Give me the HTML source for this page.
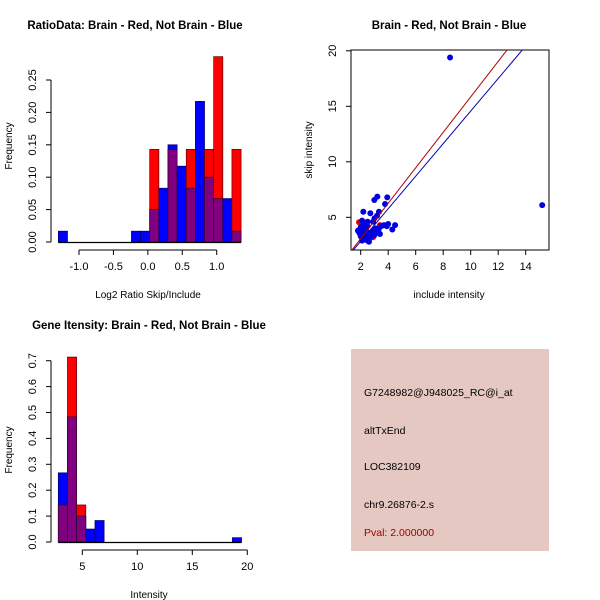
<!DOCTYPE html>
<html><head><meta charset="utf-8"><style>
body{margin:0;background:#fff;}
svg{display:block;font-family:"Liberation Sans",sans-serif;}
</style></head><body>
<svg id="s" width="600" height="600" viewBox="0 0 600 600">
<rect width="600" height="600" fill="#fff"/>
<text x="135" y="29" font-size="11.5" font-weight="bold" text-anchor="middle">RatioData: Brain - Red, Not Brain - Blue</text>
<text x="449" y="29" font-size="11.5" font-weight="bold" text-anchor="middle">Brain - Red, Not Brain - Blue</text>
<text x="149" y="329" font-size="11.5" font-weight="bold" text-anchor="middle">Gene Itensity: Brain - Red, Not Brain - Blue</text>
<text x="148" y="298" font-size="10" text-anchor="middle">Log2 Ratio Skip/Include</text>
<text transform="translate(12,146) rotate(-90)" font-size="10" text-anchor="middle">Frequency</text>
<text x="449" y="298" font-size="10" text-anchor="middle">include intensity</text>
<text transform="translate(312,150) rotate(-90)" font-size="10" text-anchor="middle">skip intensity</text>
<text x="149" y="598" font-size="10" text-anchor="middle">Intensity</text>
<text transform="translate(12,450) rotate(-90)" font-size="10" text-anchor="middle">Frequency</text>
<g>
<rect x="351" y="349" width="198" height="202" fill="#e5c8c1"/>
<text x="364" y="396" font-size="10.5">G7248982@J948025_RC@i_at</text>
<text x="364" y="434" font-size="10.5">altTxEnd</text>
<text x="364" y="470" font-size="10.5">LOC382109</text>
<text x="364" y="508" font-size="10.5">chr9.26876-2.s</text>
<text x="364" y="536" font-size="10.5" fill="#a00000">Pval: 2.000000</text>
</g>
<g id="g1"></g><g id="g2"></g><g id="g3"></g>
</svg>
<script>
// Ratio histogram
const ratioStart=-1.3, ratioWidth=0.1327;
const ratioBlue=[0.0167,0,0,0,0,0,0,0,0.0167,0.0167,0.05,0.083,0.15,0.117,0.083,0.217,0.1,0.067,0.067,0.0167];
const ratioRed=[0,0,0,0,0,0,0,0,0,0,0.143,0,0.143,0,0.143,0,0.143,0.286,0,0.143];
const ratioXTicks=[-1.0,-0.5,0.0,0.5,1.0];
const ratioYTicks=[0.00,0.05,0.10,0.15,0.20,0.25];
// Intensity histogram
const intStart=2.818, intWidth=0.833;
const intBlue=[0.267,0.483,0.1,0.05,0.083,0,0,0,0,0,0,0,0,0,0,0,0,0,0,0.0167];
const intRed=[0.143,0.714,0.143,0,0,0,0,0,0,0,0,0,0,0,0,0,0,0,0,0];
const intXTicks=[5,10,15,20];
const intYTicks=[0,0.1,0.2,0.3,0.4,0.5,0.6,0.7];
// Scatter
const blueX=[3.21,3.93,2.99,3.77,2.19,2.7,3.33,3.19,4.0,4.5,4.3,8.5,15.2,2.1,2.3,2.5,2.4,2.2,2.6,2.8,3.0,3.2,3.4,2.0,1.9,2.1,2.3,2.5,2.7,2.9,3.1,3.3,2.2,2.4,2.6,2.0,1.8,2.3,2.8,3.5,3.7,3.9,2.5,2.1,2.9,3.0,2.4,2.2,2.6,3.3];
const blueY=[6.86,6.8,6.56,6.2,5.5,5.36,5.5,5.14,4.4,4.3,3.9,19.4,6.1,4.7,4.5,4.2,4.0,3.8,3.6,3.5,3.4,3.7,3.5,3.3,3.6,3.1,3.0,2.9,3.2,3.8,4.0,3.9,4.3,3.4,3.0,4.1,3.8,3.2,3.3,4.2,4.3,4.2,4.6,2.9,4.6,4.9,3.6,3.5,2.8,3.6];
const redX=[1.88,3.4,2.9,2.0];
const redY=[4.55,4.3,3.2,3.6];
const redLine=[-0.12,1.597], blueLine=[-0.09,1.466];
const NS='http://www.w3.org/2000/svg';
function mk(p,t,a){const e=document.createElementNS(NS,t);for(const k in a)e.setAttribute(k,a[k]);p.appendChild(e);return e;}
function hist(g,start,w,blue,red,xs,ys,x0,x1,y0,y1,v0,v1,xt,yt,axY,yTop,dec,pre){
  const sx=v=>x0+(v-v0)/(v1-v0)*(x1-x0), sy=v=>y0-(v)/(y1)*(y0-yTop);
  for(let i=0;i<blue.length;i++){
    const a=start+i*w,b=a+w,bx=sx(a),bw=sx(b)-bx;
    const mn=Math.min(blue[i],red[i]);
    if(blue[i]>0){const r=mk(g,'rect',{x:bx,y:sy(blue[i]),width:bw,height:sy(0)-sy(blue[i]),fill:'#0000ff',stroke:'#000060','stroke-width':0.7});
      
      }
    if(red[i]>0){const r=mk(g,'rect',{x:bx,y:sy(red[i]),width:bw,height:sy(0)-sy(red[i]),fill:'#ff0000',stroke:'#600000','stroke-width':0.7});
      
      }
    if(mn>0){const r=mk(g,'rect',{x:bx,y:sy(mn),width:bw,height:sy(0)-sy(mn),fill:'#800080',stroke:'#300030','stroke-width':0.7});
      
      }
  }
  mk(g,'line',{x1:sx(start),x2:sx(start+blue.length*w),y1:sy(0)+0.5,y2:sy(0)+0.5,stroke:'#000','stroke-width':1.3});
  mk(g,'line',{x1:sx(xt[0]),x2:sx(xt[xt.length-1]),y1:axY,y2:axY,stroke:'#000'});
  xt.forEach(v=>{mk(g,'line',{x1:sx(v),x2:sx(v),y1:axY,y2:axY+5,stroke:'#000'});
    const t=mk(g,'text',{x:sx(v),y:axY+20,'font-size':11,'text-anchor':'middle'});t.textContent=v.toFixed(dec[0]);});
  mk(g,'line',{x1:51,x2:51,y1:sy(yt[0]),y2:sy(yt[yt.length-1]),stroke:'#000'});
  yt.forEach(v=>{mk(g,'line',{x1:46,x2:51,y1:sy(v),y2:sy(v),stroke:'#000'});
    const t=mk(g,'text',{transform:`translate(36,${sy(v)}) rotate(-90)`,'font-size':11,'text-anchor':'middle'});t.textContent=v.toFixed(dec[1]);});
}
const g1=document.getElementById('g1');


hist(g1,ratioStart,ratioWidth,ratioBlue,ratioRed,0,0,79,216.7,242,0.25,-1,1,ratioXTicks,ratioYTicks,250,80,[1,2],'ratio');
const g3=document.getElementById('g3');


hist(g3,intStart,intWidth,intBlue,intRed,0,0,82.3,247.3,542,0.7,5,20,intXTicks,intYTicks,550,360.7,[0,1],'intensity');
// scatter
const g2=document.getElementById('g2');


const px=v=>360.7+(v-2)*13.75, py=v=>217.3-(v-5)*11.1;
mk(g2,'defs',{}).innerHTML='<clipPath id="cp"><rect x="351" y="50" width="198" height="200"/></clipPath>';
mk(g2,'rect',{x:351,y:50,width:198,height:200,fill:'none',stroke:'#000'});
[[2,4,6,8,10,12,14]].forEach(a=>a.forEach(v=>{mk(g2,'line',{x1:px(v),x2:px(v),y1:250,y2:255,stroke:'#000'});
  const t=mk(g2,'text',{x:px(v),y:270,'font-size':11,'text-anchor':'middle'});t.textContent=v;}));
[5,10,15,20].forEach(v=>{mk(g2,'line',{x1:346,x2:351,y1:py(v),y2:py(v),stroke:'#000'});
  const t=mk(g2,'text',{transform:`translate(336,${py(v)}) rotate(-90)`,'font-size':11,'text-anchor':'middle'});t.textContent=v;});
const cg=mk(g2,'g',{'clip-path':'url(#cp)'});
for(let i=0;i<redX.length;i++){const c=mk(cg,'circle',{cx:px(redX[i]),cy:py(redY[i]),r:3,fill:'#e00000'});
  
  }
for(let i=0;i<blueX.length;i++){const c=mk(cg,'circle',{cx:px(blueX[i]),cy:py(blueY[i]),r:3,fill:'#0000e0'});
  
  }
const l1=mk(cg,'line',{x1:px(0),y1:py(redLine[0]),x2:px(16),y2:py(redLine[0]+redLine[1]*16),stroke:'#b00000','stroke-width':1});


const l2=mk(cg,'line',{x1:px(0),y1:py(blueLine[0]),x2:px(16),y2:py(blueLine[0]+blueLine[1]*16),stroke:'#0000b0','stroke-width':1});


</script>
</body></html>
